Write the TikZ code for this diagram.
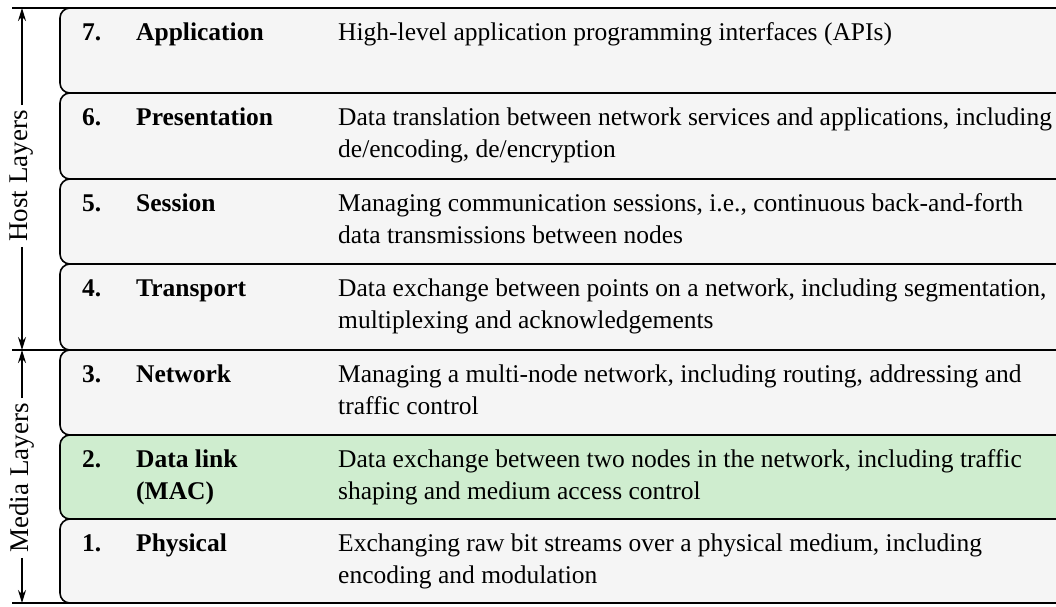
\documentclass[tikz,border=0pt]{standalone}
\usepackage{fontspec}
\setmainfont{Liberation Serif}
\usetikzlibrary{arrows.meta}
\definecolor{boxgray}{RGB}{245,245,245}
\definecolor{boxgreen}{RGB}{207,237,207}

\begin{document}
\begin{tikzpicture}[x=1pt,y=-1pt,
   layer/.style={draw,line width=1.6pt,rounded corners=10pt,fill=boxgray},
   txt/.style={anchor=base west,inner sep=0pt,align=left,font=\fontsize{25.5}{32}\selectfont},
   bold/.style={txt,font=\fontsize{25.5}{32}\selectfont\bfseries},
   side/.style={rotate=90,inner sep=5pt,font=\fontsize{27}{30}\selectfont},
   dim/.style={line width=1.6pt,-{Stealth[length=13pt,width=8pt]}}]
   \useasboundingbox (0,0) rectangle (1056,606);
   \draw[layer] (1070,8) -- (60,8) -- (60,93) -- (1070,93);
   \draw[layer] (1070,93) -- (60,93) -- (60,179) -- (1070,179);
   \draw[layer] (1070,179) -- (60,179) -- (60,264) -- (1070,264);
   \draw[layer] (1070,264) -- (60,264) -- (60,350) -- (1070,350);
   \draw[layer] (1070,350) -- (60,350) -- (60,435) -- (1070,435);
   \draw[layer,fill=boxgreen] (1070,435) -- (60,435) -- (60,519) -- (1070,519);
   \draw[layer] (1070,519) -- (60,519) -- (60,603) -- (1070,603);
   \node[bold] (n7) at (82,40) {7.};
   \node[bold] (l7) at (136,40) {Application};
   \node[txt] (d7) at (338,40) {High-level application programming interfaces (APIs)};
   \node[bold] (n6) at (82,125) {6.};
   \node[bold] (l6) at (136,125) {Presentation};
   \node[txt] (d6) at (338,157) {Data translation between network services and applications, including\\de/encoding, de/encryption};
   \node[bold] (n5) at (82,211) {5.};
   \node[bold] (l5) at (136,211) {Session};
   \node[txt] (d5) at (338,243) {Managing communication sessions, i.e., continuous back-and-forth\\data transmissions between nodes};
   \node[bold] (n4) at (82,296) {4.};
   \node[bold] (l4) at (136,296) {Transport};
   \node[txt] (d4) at (338,328) {Data exchange between points on a network, including segmentation,\\multiplexing and acknowledgements};
   \node[bold] (n3) at (82,382) {3.};
   \node[bold] (l3) at (136,382) {Network};
   \node[txt] (d3) at (338,414) {Managing a multi-node network, including routing, addressing and\\traffic control};
   \node[bold] (n2) at (82,467) {2.};
   \node[bold] (l2) at (136,499) {Data link\\(MAC)};
   \node[txt] (d2) at (338,499) {Data exchange between two nodes in the network, including traffic\\shaping and medium access control};
   \node[bold] (n1) at (82,551) {1.};
   \node[bold] (l1) at (136,551) {Physical};
   \node[txt] (d1) at (338,583) {Exchanging raw bit streams over a physical medium, including\\encoding and modulation};
   \coordinate (hosttop) at (22,8);
   \coordinate (hostbot) at (22,350);
   \coordinate (mediabot) at (22,603);
   \draw[line width=1.6pt] (12,8) -- (70,8);
   \draw[line width=1.6pt] (12,350) -- (70,350);
   \draw[line width=1.6pt] (12,603) -- (70,603);
   \node[side] (host) at (22,176) {Host Layers};
   \node[side] (media) at (22,478) {Media Layers};
   \draw[dim] (host.east) -- (hosttop);
   \draw[dim] (host.west) -- (hostbot);
   \draw[dim] (media.east) -- (hostbot);
   \draw[dim] (media.west) -- (mediabot);
\end{tikzpicture}
\end{document}
